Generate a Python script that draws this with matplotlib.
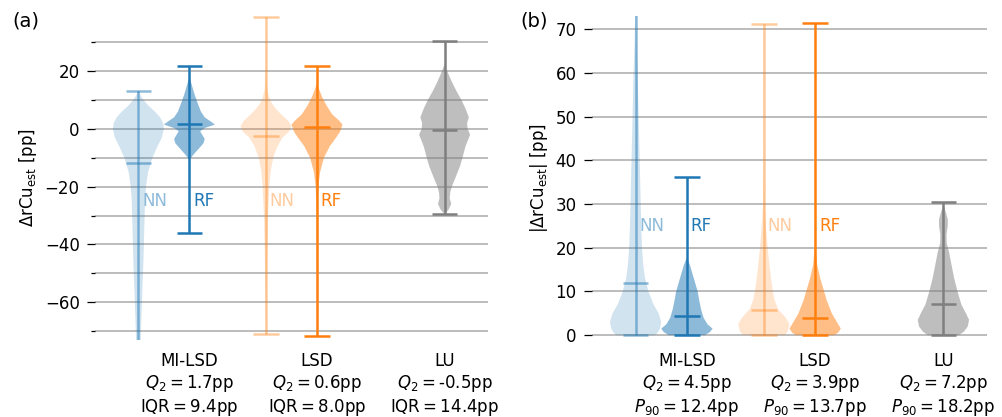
import matplotlib
matplotlib.use("Agg")
import matplotlib.pyplot as plt
from matplotlib.colors import to_rgba
from matplotlib.ticker import MultipleLocator

# group labels and summary numbers shown under the violins
groups = ["MI-LSD", "LSD", "LU"]
q2_signed = ["1.7", "0.6", "-0.5"]
iqr_signed = ["9.4", "8.0", "14.4"]
q2_abs = ["4.5", "3.9", "7.2"]
p90_abs = ["12.4", "13.7", "18.2"]

# violin order: NN MI-LSD, RF MI-LSD, NN LSD, RF LSD, LU
positions = [0.6, 1.0, 1.6, 2.0, 3.0]
model_names = ["NN", "RF", "NN", "RF", None]

# panel (a): signed error, density profiles
a_y = [
    [-76, -65, -55, -45, -35, -25, -20, -15, -10, -6, -3, 0, 2, 4, 6, 8, 10, 12, 13.2],
    [-10.5, -9, -7, -5, -3.5, -2, -0.8, 0.3, 1.5, 2.5, 4, 6, 9, 12, 15, 17.5],
    [-71, -60, -45, -30, -20, -15, -10, -6, -3, -1, 1, 3, 5, 7, 9, 11, 14, 20, 38.7],
    [-71.7, -50, -30, -20, -15, -10, -6, -3, -1, 1.5, 3, 5, 8, 11, 14, 16],
    [-29.4, -28, -26, -24, -22, -20, -17, -13, -10, -6, -2, 0, 2, 4, 7, 10, 13, 16, 19, 22],
]
a_d = [
    [0.08, 0.12, 0.16, 0.2, 0.23, 0.26, 0.3, 0.38, 0.55, 0.75, 0.92, 1.0, 0.97, 0.85, 0.65, 0.4, 0.2, 0.06, 0.02],
    [0.02, 0.15, 0.35, 0.55, 0.6, 0.5, 0.42, 0.6, 1.0, 0.85, 0.6, 0.45, 0.32, 0.2, 0.1, 0.02],
    [0.01, 0.02, 0.04, 0.08, 0.13, 0.18, 0.28, 0.45, 0.65, 0.9, 1.0, 0.85, 0.6, 0.38, 0.22, 0.12, 0.05, 0.02, 0.005],
    [0.005, 0.01, 0.02, 0.05, 0.12, 0.27, 0.5, 0.75, 0.9, 1.0, 0.85, 0.6, 0.38, 0.2, 0.07, 0.01],
    [0.02, 0.15, 0.26, 0.2, 0.22, 0.28, 0.42, 0.6, 0.7, 0.82, 1.0, 0.9, 0.88, 0.95, 0.82, 0.66, 0.47, 0.3, 0.15, 0.02],
]
a_min = [-76, -36.2, -71, -71.7, -29.4]
a_max = [13.2, 21.8, 38.7, 21.8, 30.6]
a_med = [-11.9, 1.7, -2.5, 0.6, -0.5]

# panel (b): absolute error
b_y = [
    [0, 0.5, 1.5, 3, 5, 7, 10, 13, 16, 20, 25, 30, 40, 50, 60, 67, 76],
    [0, 0.7, 1.5, 2.5, 4, 6, 8, 10, 12, 14, 16, 17.5],
    [0, 0.7, 2.5, 4, 6, 8, 10, 13, 16, 20, 25, 30, 40, 71.2],
    [0, 0.6, 1.5, 3, 5, 8, 10, 13, 16, 20, 30, 71.5],
    [0, 0.8, 2, 3.5, 5, 7, 10, 13, 16, 19, 21, 23, 25, 26.5, 28, 29.5],
]
b_d = [
    [0.75, 0.85, 0.95, 1.0, 0.9, 0.7, 0.5, 0.37, 0.3, 0.25, 0.22, 0.2, 0.16, 0.12, 0.08, 0.04, 0.01],
    [0.7, 0.9, 1.0, 0.8, 0.65, 0.55, 0.48, 0.42, 0.32, 0.22, 0.12, 0.02],
    [0.8, 0.92, 1.0, 0.85, 0.55, 0.42, 0.35, 0.28, 0.22, 0.15, 0.08, 0.03, 0.01, 0.005],
    [0.75, 0.9, 1.0, 0.85, 0.65, 0.45, 0.35, 0.2, 0.08, 0.02, 0.01, 0.005],
    [0.6, 0.8, 0.95, 1.0, 0.88, 0.7, 0.55, 0.42, 0.32, 0.22, 0.13, 0.12, 0.17, 0.17, 0.1, 0.02],
]
b_min = [0, 0, 0, 0, 0]
b_max = [76, 36.1, 71.2, 71.5, 30.5]
b_med = [11.9, 4.5, 5.7, 3.9, 7.2]

# (base colour, body alpha, line alpha)
styles = [
    ("tab:blue", 0.2, 0.5),
    ("tab:blue", 0.5, 1.0),
    ("tab:orange", 0.2, 0.4),
    ("tab:orange", 0.5, 1.0),
    ("tab:gray", 0.5, 1.0),
]

FS = 12


def draw_panel(ax, ys, ds, mins, maxs, meds, text_y):
    for i in range(len(positions)):
        stats = [dict(coords=ys[i], vals=ds[i], mean=meds[i], median=meds[i],
                      min=mins[i], max=maxs[i])]
        parts = ax.violin(stats, positions=[positions[i]], widths=0.4,
                          showmeans=False, showextrema=True, showmedians=True)
        base, a_body, a_line = styles[i]
        for b in parts["bodies"]:
            b.set_alpha(None)
            b.set_facecolor(to_rgba(base, a_body))
            b.set_edgecolor("none")
        lc = to_rgba(base, a_line)
        for key in ["cmaxes", "cmins", "cbars", "cmedians"]:
            parts[key].set_color(lc)
            parts[key].set_linewidth(1.8)
        if model_names[i]:
            ax.text(positions[i] + 0.03, text_y, model_names[i], color=lc,
                    ha="left", va="center", fontsize=FS)
    for s in ax.spines.values():
        s.set_visible(False)
    ax.set_axisbelow(True)
    ax.set_xlim(0.26, 3.34)
    ax.set_xticks([1, 2, 3])
    ax.tick_params(axis="x", length=0, pad=9, labelsize=FS)
    ax.tick_params(axis="y", which="major", length=5.5, width=0.9, pad=5.5, labelsize=FS)
    ax.tick_params(axis="y", which="minor", length=3, width=0.9)


fig = plt.figure(figsize=(10.03, 4.17), dpi=100)
ax1 = fig.add_axes([95 / 1003, 1 - 340 / 417, 393 / 1003, 324 / 417])
ax2 = fig.add_axes([592 / 1003, 1 - 340 / 417, 395 / 1003, 324 / 417])

draw_panel(ax1, a_y, a_d, a_min, a_max, a_med, -25)
ax1.set_ylim(-73.1, 39.1)
ax1.yaxis.set_major_locator(MultipleLocator(20))
ax1.yaxis.set_minor_locator(MultipleLocator(10))
ax1.grid(axis="y", which="both", color="#b0b0b0", linewidth=1.2)
ax1.set_xticklabels([g + "\n" + r"$Q_2 = $" + q + "pp" + "\n" + r"IQR$ = $" + r + "pp"
                     for g, q, r in zip(groups, q2_signed, iqr_signed)])
ax1.set_ylabel(r"$\Delta$rCu$_\mathrm{est}$ [pp]", fontsize=FS)

draw_panel(ax2, b_y, b_d, b_min, b_max, b_med, 25)
ax2.set_ylim(-1.1, 73.0)
ax2.yaxis.set_major_locator(MultipleLocator(10))
ax2.grid(axis="y", which="major", color="#b0b0b0", linewidth=1.2)
ax2.set_xticklabels([g + "\n" + r"$Q_2 = $" + q + "pp" + "\n" + r"$P_{90} = $" + p + "pp"
                     for g, q, p in zip(groups, q2_abs, p90_abs)])
ax2.set_ylabel(r"|$\Delta$rCu$_\mathrm{est}$| [pp]", fontsize=FS)

fig.text(12 / 1003, 1 - 21 / 417, "(a)", ha="left", va="center", fontsize=14)
fig.text(520 / 1003, 1 - 21 / 417, "(b)", ha="left", va="center", fontsize=14)

fig.savefig("out.png", dpi=100)
